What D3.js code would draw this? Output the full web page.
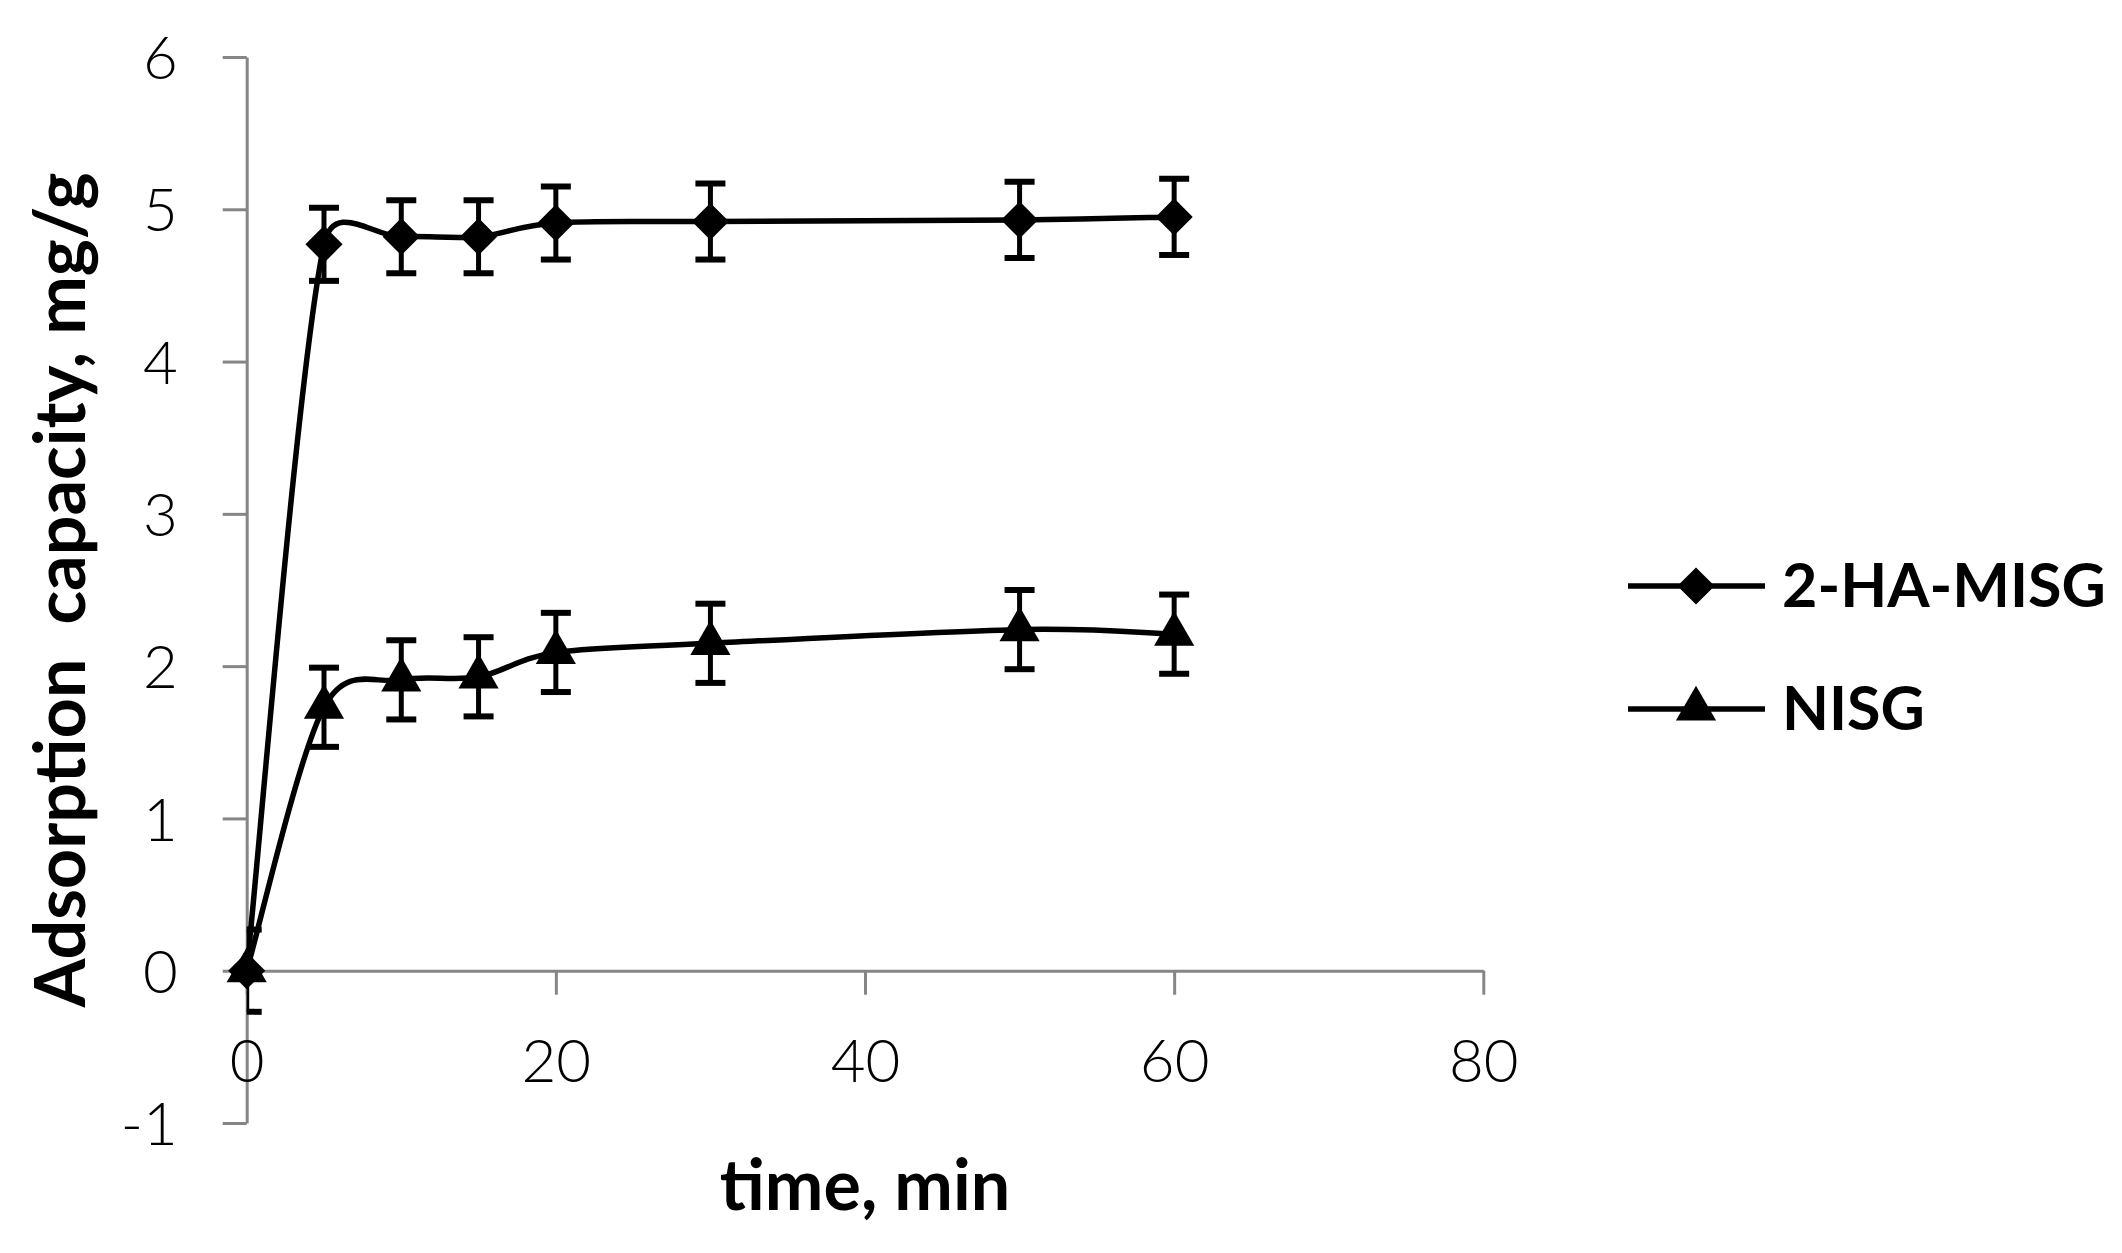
<!DOCTYPE html>
<html>
<head>
<meta charset="utf-8">
<script src="https://cdn.jsdelivr.net/npm/d3@7"></script>
<style>
  body { margin: 0; background: #fff; }
  svg { display: block; }
</style>
</head>
<body>
<script>
// data
const times = [0, 5, 10, 15, 20, 30, 50, 60];
const haMisg = [0, 4.77, 4.82, 4.82, 4.91, 4.92, 4.93, 4.95];
const haMisgErr = [0, 0.24, 0.24, 0.24, 0.24, 0.25, 0.25, 0.25];
const nisg = [0, 1.73, 1.91, 1.93, 2.09, 2.15, 2.24, 2.21];
const nisgErr = [0.27, 0.26, 0.26, 0.26, 0.26, 0.26, 0.26, 0.26];
const xTicks = [0, 20, 40, 60, 80];
const yTicks = [-1, 0, 1, 2, 3, 4, 5, 6];

const width = 2122, height = 1253;
const axisColor = "#868686";
const tickFont = "Lato, 'Liberation Sans Narrow', sans-serif";

const svg = d3.select("body").append("svg")
    .attr("width", width)
    .attr("height", height);

const x = d3.scaleLinear().domain([0, 80]).range([246.7, 1483.3]);
const y = d3.scaleLinear().domain([-1, 6]).range([1123, 57]);

const series = [
  {name: "2-HA-MISG", values: haMisg, err: haMisgErr, symbol: "diamond"},
  {name: "NISG", values: nisg, err: nisgErr, symbol: "triangle"}
];

// axes
const yAxis = svg.append("g")
    .attr("transform", `translate(${x(0)},0)`)
    .call(d3.axisLeft(y).tickValues(yTicks).tickFormat(d => String(d))
      .tickSize(24).tickSizeOuter(0).tickPadding(45));

const xAxis = svg.append("g")
    .attr("transform", `translate(0,${y(0)})`)
    .call(d3.axisBottom(x).tickValues(xTicks).tickFormat(d => String(d))
      .tickSize(24).tickSizeOuter(0).tickPadding(45));

[yAxis, xAxis].forEach(g => {
  g.selectAll("path, line").attr("stroke", axisColor).attr("stroke-width", 3);
  g.selectAll("text")
    .attr("fill", "#000")
    .style("font-family", tickFont)
    .style("font-weight", 300)
    .style("font-size", "60px");
});
yAxis.selectAll("text").attr("dy", "0.36em");

// clip region = plot area
svg.append("clipPath").attr("id", "plot")
  .append("rect")
    .attr("x", x(0)).attr("y", y(6))
    .attr("width", x(80) - x(0)).attr("height", y(-1) - y(6));

// smoothed line like the spreadsheet one: catmull-rom arms (P2-P0)/6,
// but an arm may not reach further than 0.6 of its own segment
function smoothPath(pts) {
  const p = d3.path();
  const n = pts.length;
  const dist = (a, b) => Math.hypot(b[0] - a[0], b[1] - a[1]);
  const arm = (a, b, seg) => {
    let dx = (b[0] - a[0]) / 6, dy = (b[1] - a[1]) / 6;
    const len = Math.hypot(dx, dy), lim = 0.6 * seg;
    if (len > lim) { dx *= lim / len; dy *= lim / len; }
    return [dx, dy];
  };
  p.moveTo(pts[0][0], pts[0][1]);
  for (let i = 0; i < n - 1; i++) {
    const p0 = pts[Math.max(i - 1, 0)], p1 = pts[i], p2 = pts[i + 1], p3 = pts[Math.min(i + 2, n - 1)];
    const seg = dist(p1, p2);
    const a1 = arm(p0, p2, seg), a2 = arm(p1, p3, seg);
    p.bezierCurveTo(p1[0] + a1[0], p1[1] + a1[1], p2[0] - a2[0], p2[1] - a2[1], p2[0], p2[1]);
  }
  return p.toString();
}

const plot = svg.append("g").attr("clip-path", "url(#plot)");

series.forEach(s => {
  const pts = s.values.map((v, i) => [x(times[i]), y(v)]);
  plot.append("path")
      .attr("d", smoothPath(pts))
      .attr("fill", "none")
      .attr("stroke", "#000")
      .attr("stroke-width", 5.5);
});

// error bars
series.forEach(s => {
  const g = plot.append("g").attr("stroke", "#000");
  s.values.forEach((v, i) => {
    if (!s.err[i]) return;
    const cx = x(times[i]);
    const top = y(v + s.err[i]), bot = y(v - s.err[i]);
    g.append("line").attr("x1", cx).attr("x2", cx).attr("y1", top).attr("y2", bot)
        .attr("stroke-width", 5);
    [top, bot].forEach(yy => {
      g.append("line").attr("x1", cx - 15).attr("x2", cx + 15).attr("y1", yy).attr("y2", yy)
          .attr("stroke-width", 6);
    });
  });
});

const markerPath = {
  diamond: d3.symbol(d3.symbolSquare, 690)(),
  triangle: d3.symbol(d3.symbolTriangle, 700)()
};
const markerRotate = {diamond: 45, triangle: 0};

series.forEach(s => {
  svg.append("g").selectAll("path")
    .data(s.values)
    .join("path")
      .attr("d", markerPath[s.symbol])
      .attr("transform", (d, i) => `translate(${x(times[i])},${y(d)}) rotate(${markerRotate[s.symbol]})`)
      .attr("fill", "#000");
});

// axis titles
svg.append("text")
    .attr("transform", `translate(85,${(y(6) + y(-1)) / 2}) rotate(-90)`)
    .attr("text-anchor", "middle")
    .style("font-family", "Lato, sans-serif")
    .style("font-weight", 700)
    .style("font-size", "70px")
    .style("white-space", "pre")
    .text("Adsorption  capacity, mg/g");

svg.append("text")
    .attr("x", (x(0) + x(80)) / 2)
    .attr("y", 1210)
    .attr("text-anchor", "middle")
    .style("font-family", "Lato, sans-serif")
    .style("font-weight", 700)
    .style("font-size", "70px")
    .text("time, min");

// legend
const legendY = [586, 709];
const legend = svg.append("g");
series.forEach((s, i) => {
  const ly = legendY[i];
  legend.append("line")
      .attr("x1", 1628).attr("x2", 1765).attr("y1", ly).attr("y2", ly)
      .attr("stroke", "#000").attr("stroke-width", 5.5);
  legend.append("path")
      .attr("d", markerPath[s.symbol])
      .attr("transform", `translate(1696,${ly}) rotate(${markerRotate[s.symbol]})`)
      .attr("fill", "#000");
  legend.append("text")
      .attr("x", 1782)
      .attr("y", ly + 21)
      .style("font-family", "Lato, sans-serif")
      .style("font-weight", 700)
      .style("font-size", "61px")
      .text(s.name);
});
</script>
</body>
</html>
